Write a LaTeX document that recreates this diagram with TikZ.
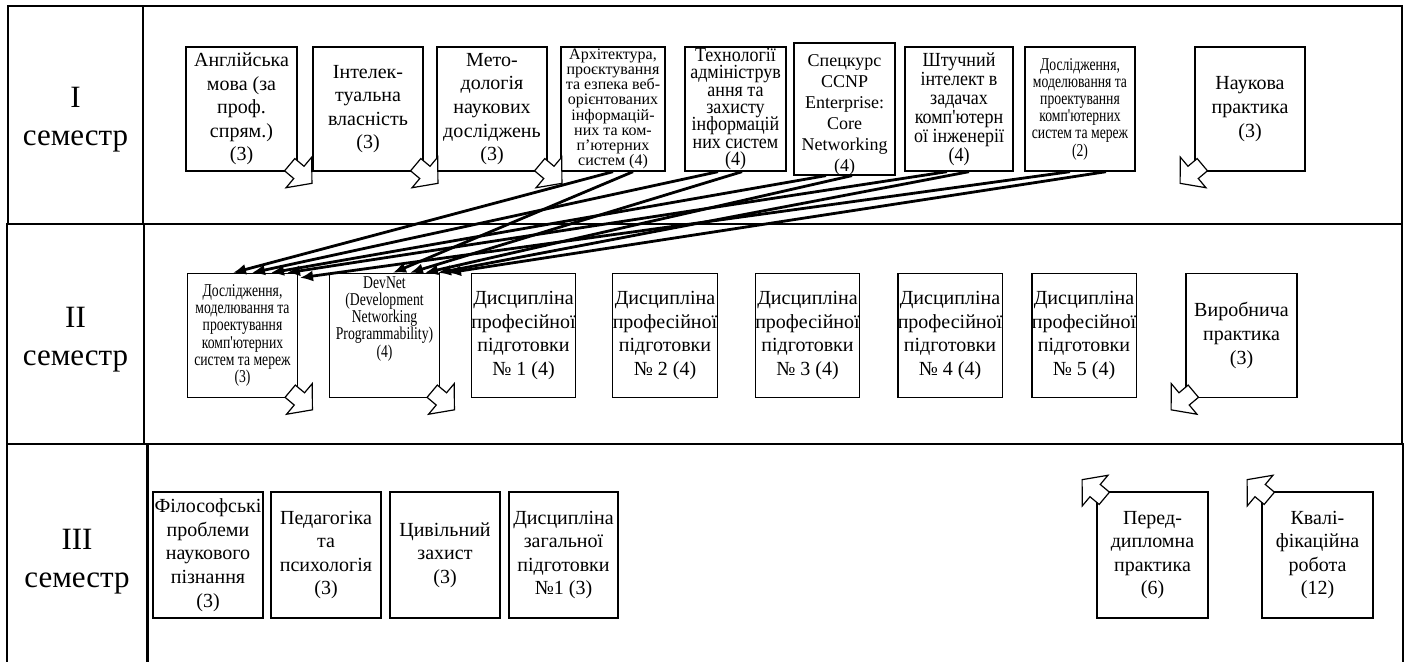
\documentclass[tikz,border=0pt]{standalone}
\usepackage{fontspec}
\setmainfont{Liberation Serif}
\newfontfamily\narrowfont[FakeStretch=0.76]{Liberation Serif}
\newfontfamily\semifont[FakeStretch=0.9]{Liberation Serif}
\usetikzlibrary{arrows.meta,calc}
\newcommand\tightlines{\lineskiplimit-20pt\relax}

\tikzset{
  frame/.style={line width=1.1pt},
  subj/.style={draw,line width=0.7pt,fill=white,minimum width=55pt,minimum height=62pt,
    inner sep=0pt,align=center,font=\fontsize{10}{11.8}\selectfont},
  squeezed/.style={font=\narrowfont\fontsize{9}{8.6}\selectfont\tightlines},
  semlabel/.style={font=\fontsize{15.5}{19}\selectfont,align=center},
  outarrow/.pic={\draw[fill=white,line width=0.6pt] (0,-8) -- (12,-8) -- (12,-20)
    -- (29,0) -- (12,20) -- (12,8) -- (0,8) -- cycle;},
  link/.style={-{Latex[length=6.5pt,width=5.5pt]},line width=1.4pt},
}

\begin{document}
\begin{tikzpicture}[x=0.5pt,y=-0.5pt]
\useasboundingbox (0,0) rectangle (1411,662);

% table
\draw[frame] (8,6) rectangle (143,224);
\draw[frame] (143,6) rectangle (1402,224);
\draw[frame] (7,224) rectangle (144,444);
\draw[frame] (144,224) rectangle (1402,444);
\draw[frame] (7,662) -- (7,444) -- (1403,444) -- (1403,662);
\draw[line width=1.5pt] (147,444) -- (147,662);

\node[semlabel] (sem1) at (75.5,120) {I\\семестр};
\node[semlabel] (sem2) at (75.5,340) {II\\семестр};
\node[semlabel] (sem3) at (77,562) {III\\семестр};

% I semester
\node[subj,minimum width=55.5pt] (eng) at (241.5,109) {Англійська\\мова (за\\проф.\\спрям.)\\(3)};
\node[subj] (intel) at (368,109) {Інтелек-\\туальна\\власність\\(3)};
\node[subj] (metod) at (492,109) {Мето-\\дологія\\наукових\\досліджень\\(3)};
\node[subj,minimum width=52pt,font=\fontsize{8}{7.6}\selectfont\tightlines] (arch) at (613,109)
  {Архітектура,\\проєктування\\та езпека веб-\\орієнтованих\\інформацій-\\них та ком-\\п'ютерних\\систем (4)};
\node[subj,minimum width=50.5pt,font=\semifont\fontsize{10}{8.7}\selectfont\tightlines] (tech) at (735.5,109)
  {Технології\\адмініструв\\ання та\\захисту\\інформацій\\них систем\\(4)};
\node[subj,minimum width=50.5pt,font=\fontsize{9}{10.5}\selectfont] (spec) at (844.5,109)
  {\mbox{}\\[1pt]Спецкурс\\CCNP\\Enterprise:\\Core\\Networking\\(4)};
\node[subj,minimum width=54pt,font=\semifont\fontsize{10}{9.5}\selectfont\tightlines] (shtuch) at (959,109)
  {Штучний\\інтелект в\\задачах\\комп'ютерн\\ої інженерії\\(4)};
\node[subj,squeezed] (doslid1) at (1080,109)
  {Дослідження,\\моделювання та\\проектування\\комп'ютерних\\систем та мереж\\(2)};
\node[subj] (nauk) at (1250,109) {Наукова\\практика\\(3)};

% II semester
\node[subj,squeezed] (doslid2) at (242.5,335.5)
  {Дослідження,\\моделювання та\\проектування\\комп'ютерних\\систем та мереж\\(3)};
\node[subj,squeezed] (devnet) at (384.5,335.5)
  {DevNet\\(Development\\Networking\\Programmability)\\(4)\\[10pt]\mbox{}};
\node[subj,minimum width=50.5pt] (prof1) at (523.5,335.5) {Дисципліна\\професійної\\підготовки\\№ 1 (4)};
\node[subj,minimum width=51pt] (prof2) at (665,335.5) {Дисципліна\\професійної\\підготовки\\№ 2 (4)};
\node[subj,minimum width=50.5pt] (prof3) at (807.5,335.5) {Дисципліна\\професійної\\підготовки\\№ 3 (4)};
\node[subj,minimum width=50pt] (prof4) at (950,335.5) {Дисципліна\\професійної\\підготовки\\№ 4 (4)};
\node[subj,minimum width=51pt] (prof5) at (1084,335.5) {Дисципліна\\професійної\\підготовки\\№ 5 (4)};
\node[subj,minimum width=55.5pt] (vyrob) at (1241.5,335.5) {Виробнича\\практика\\(3)};

% III semester
\node[subj,minimum height=63pt] (filos) at (208,555) {Філософські\\проблеми\\наукового\\пізнання\\(3)};
\node[subj,minimum height=63pt] (pedag) at (326,555) {Педагогіка\\та\\психологія\\(3)};
\node[subj,minimum height=63pt] (tsyv) at (445,555) {Цивільний\\захист\\(3)};
\node[subj,minimum height=63pt,minimum width=54.5pt] (zag1) at (563.5,555) {Дисципліна\\загальної\\підготовки\\№1 (3)};
\node[subj,minimum height=63pt,minimum width=55.5pt] (pered) at (1152.5,555) {Перед-\\дипломна\\практика\\(6)};
\node[subj,minimum height=63pt,minimum width=55.5pt] (kval) at (1317.5,555) {Квалі-\\фікаційна\\робота\\(12)};

% hollow arrows at the corners
\pic[rotate=-40] (eng-out) at ($(eng.south east)+(-8,-7)$) {outarrow};
\pic[rotate=-40] (intel-out) at ($(intel.south east)+(-8,-7)$) {outarrow};
\pic[rotate=-40] (metod-out) at ($(metod.south east)+(-8,-7)$) {outarrow};
\pic[rotate=-140] (nauk-out) at ($(nauk.south west)+(8,-7)$) {outarrow};
\pic[rotate=-40] (doslid2-out) at ($(doslid2.south east)+(-8,-7)$) {outarrow};
\pic[rotate=-40] (devnet-out) at ($(devnet.south east)+(-8,-7)$) {outarrow};
\pic[rotate=-140] (vyrob-out) at ($(vyrob.south west)+(8,-7)$) {outarrow};
\pic[rotate=140] (pered-in) at ($(pered.north west)+(8,7)$) {outarrow};
\pic[rotate=140] (kval-in) at ($(kval.north west)+(8,7)$) {outarrow};

% prerequisites
\foreach \src/\sa/\sb/\ta/\tb/\ty in {arch/0/20/-9.5/8.5/0,tech/-17.5/6.5/9.5/25.5/0,
    spec/-18.5/7.5/28.5/40.5/0,shtuch/-12/10/44.5/53.5/0,doslid1/-10/26/57.5/63.5/5}{
  \draw[link] ($(\src.south)+(\sa,0)$) -- ($(doslid2.north)+(\ta,\ty)$);
  \draw[link] ($(\src.south)+(\sb,0)$) -- ($(devnet.north)+(\tb,0)$);
}
\end{tikzpicture}
\end{document}
